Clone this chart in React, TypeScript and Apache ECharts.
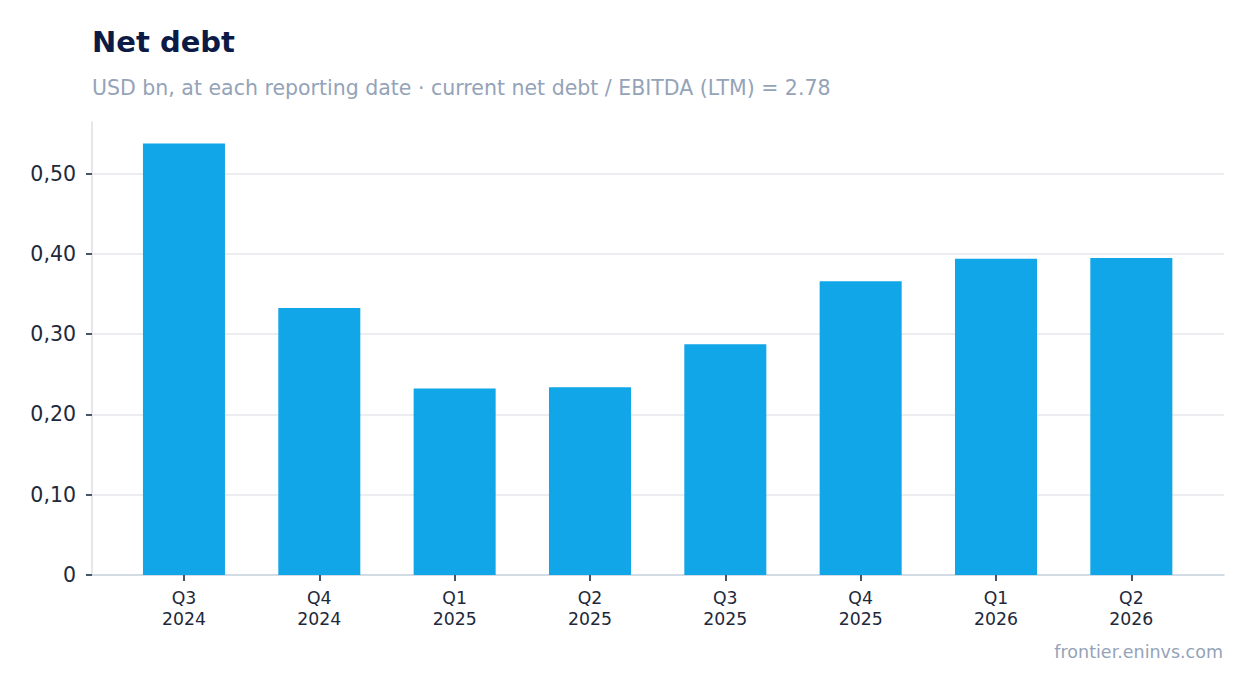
import React, { useEffect, useRef } from "react";
import * as echarts from "echarts";

const quarters = ["Q3", "Q4", "Q1", "Q2", "Q3", "Q4", "Q1", "Q2"];
const years = ["2024", "2024", "2025", "2025", "2025", "2025", "2026", "2026"];
const netDebt = [0.5375, 0.3325, 0.2325, 0.234, 0.2875, 0.366, 0.394, 0.395];

const FONT = "DejaVu Sans";
// a little headroom above the tallest bar
const Y_MAX = Math.max(...netDebt) * 1.05;

const App: React.FC = () => {
  const chartRef = useRef<HTMLDivElement>(null);

  useEffect(() => {
    if (!chartRef.current) return;
    const chart = echarts.init(chartRef.current, undefined, { renderer: "svg" });

    const option = {
      animation: false,
      textStyle: { fontFamily: FONT },
      title: [
        {
          text: "Net debt",
          left: 92,
          top: 27,
          padding: 0,
          textStyle: { fontFamily: FONT, fontSize: 29, fontWeight: "bold", color: "#0c1a46" },
        },
        {
          text: "USD bn, at each reporting date · current net debt / EBITDA (LTM) = 2.78",
          left: 92,
          top: 77,
          padding: 0,
          textStyle: { fontFamily: FONT, fontSize: 20.5, fontWeight: "normal", color: "#94a3b8" },
        },
        {
          text: "frontier.eninvs.com",
          right: 31,
          top: 643,
          padding: 0,
          textStyle: { fontFamily: FONT, fontSize: 17.5, fontWeight: "normal", color: "#94a3b8" },
        },
      ],
      // outer frame (axis lines, grid lines) and inner band where the categories sit
      grid: [
        { left: 92, right: 30, top: 122, bottom: 118 },
        { left: 116.3, right: 55, top: 122, bottom: 118 },
      ],
      xAxis: [
        {
          type: "category",
          gridIndex: 0,
          data: quarters,
          axisLine: { lineStyle: { color: "#cbd5e1", width: 1.5 } },
          axisTick: { show: false },
          axisLabel: { show: false },
        },
        {
          type: "category",
          gridIndex: 1,
          data: quarters.map((q, i) => `${q}\n${years[i]}`),
          axisLine: { show: false },
          axisTick: { show: true, alignWithLabel: true, length: 6, lineStyle: { color: "#475569", width: 2 } },
          axisLabel: { fontSize: 17.3, lineHeight: 21, color: "#1e293b", margin: 12 },
        },
      ],
      yAxis: [
        {
          type: "value",
          gridIndex: 0,
          min: 0,
          max: Y_MAX,
          interval: 0.1,
          axisLine: { show: true, lineStyle: { color: "#e5e7eb", width: 2 } },
          axisTick: { show: true, length: 6, lineStyle: { color: "#475569", width: 2 } },
          splitLine: { showMaxLine: false, lineStyle: { color: "#e5e7eb", width: 1.5 } },
          axisLabel: {
            fontSize: 20.5,
            color: "#1e293b",
            margin: 16,
            showMaxLabel: false,
            formatter: (v: number) => (v === 0 ? "0" : v.toFixed(2).replace(".", ",")),
          },
        },
        {
          type: "value",
          gridIndex: 1,
          min: 0,
          max: Y_MAX,
          interval: 0.1,
          show: false,
        },
      ],
      series: [
        {
          type: "bar",
          xAxisIndex: 1,
          yAxisIndex: 1,
          data: netDebt,
          barWidth: "60.6%",
          itemStyle: { color: "#10a6e8" },
        },
      ],
    };

    chart.setOption(option);
    return () => chart.dispose();
  }, []);

  return (
    <div
      ref={chartRef}
      style={{ position: "fixed", left: 0, top: 0, width: 1254, height: 693, background: "#fff" }}
    />
  );
};

export default App;
